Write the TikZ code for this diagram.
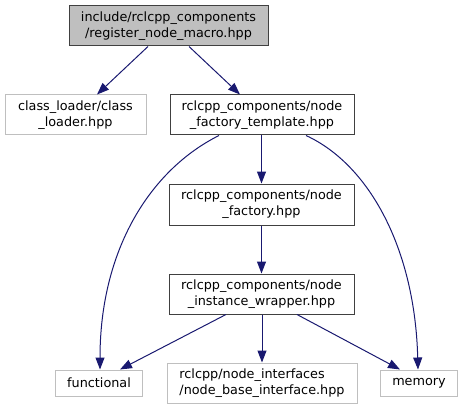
\documentclass[tikz,border=0pt]{standalone}
\usepackage{fontspec}
\setmainfont{DejaVu Sans}
\usetikzlibrary{arrows.meta}
\definecolor{edgeblue}{HTML}{191970}
\definecolor{extgray}{HTML}{BFBFBF}
\definecolor{intblack}{HTML}{404040}
\tikzset{
  box/.style={draw, line width=1pt, inner sep=0pt, font=\fontsize{12.8}{16}\selectfont, align=center},
  extbox/.style={box, draw=extgray},
  intbox/.style={box, draw=intblack},
  rootbox/.style={box, draw=intblack, fill=extgray},
  dep/.style={draw=edgeblue, line width=1pt, -{Triangle[length=12pt,width=9pt,fill=edgeblue]}},
}
\begin{document}
\begin{tikzpicture}[x=1pt,y=-1pt]
\useasboundingbox (0,0) rectangle (463,409);
\node[rootbox, minimum width=199pt, minimum height=40pt] (top) at (168.5,26) {include/rclcpp\_components\\/register\_node\_macro.hpp};
\node[extbox, minimum width=141pt, minimum height=40pt] (cl) at (75.5,115) {class\_loader/class\\\_loader.hpp};
\node[intbox, minimum width=184pt, minimum height=40pt] (nft) at (262,115) {rclcpp\_components/node\\\_factory\_template.hpp};
\node[intbox, minimum width=185pt, minimum height=41pt] (nf) at (261.5,204.5) {rclcpp\_components/node\\\_factory.hpp};
\node[intbox, minimum width=185pt, minimum height=40pt] (niw) at (261.5,294) {rclcpp\_components/node\\\_instance\_wrapper.hpp};
\node[extbox, minimum width=87pt, minimum height=26pt] (func) at (99,383) {functional};
\node[extbox, minimum width=190pt, minimum height=40pt, align=left] (nbi) at (262,383) {rclcpp/node\_interfaces\\/node\_base\_interface.hpp};
\node[extbox, minimum width=77pt, minimum height=26pt] (mem) at (419,383) {memory};

\draw[dep] ([xshift=-20.5pt]top.south) -- ([xshift=21.5pt]cl.north);
\draw[dep] ([xshift=20.5pt]top.south) -- ([xshift=-22pt]nft.north);
\draw[dep] ([xshift=-0.5pt]nft.south) -- (nf.north);
\draw[dep] ([xshift=-43pt]nft.south) .. controls (150,170) and (100,250) .. ([xshift=1pt]func.north);
\draw[dep] ([xshift=44pt]nft.south) .. controls (370,165) and (415,250) .. ([xshift=-1pt]mem.north);
\draw[dep] (nf.south) -- (niw.north);
\draw[dep] ([xshift=-35.5pt]niw.south) -- ([xshift=21pt]func.north);
\draw[dep] ([xshift=0.5pt]niw.south) -- (nbi.north);
\draw[dep] ([xshift=35.5pt]niw.south) -- ([xshift=-19pt]mem.north);
\end{tikzpicture}
\end{document}
